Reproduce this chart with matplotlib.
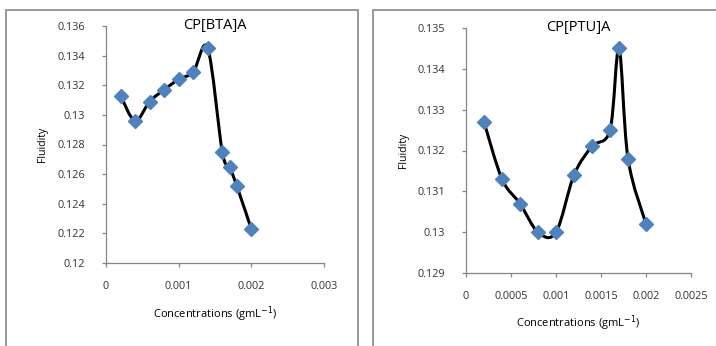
import numpy as np
import matplotlib
matplotlib.use("Agg")
from matplotlib import pyplot as plt
from matplotlib.path import Path
from matplotlib.patches import PathPatch, Rectangle

plt.rcParams['font.family'] = ['Open Sans', 'DejaVu Sans']

# 数据
conc = [0.0002, 0.0004, 0.0006, 0.0008, 0.001, 0.0012, 0.0014,
        0.0016, 0.0017, 0.0018, 0.002]
bta = [0.1313, 0.1296, 0.1309, 0.1317, 0.1324, 0.1329, 0.1345,
       0.1275, 0.1265, 0.1252, 0.1223]
ptu = [0.1327, 0.1313, 0.1307, 0.1300, 0.1300, 0.1314, 0.1321,
       0.1325, 0.1345, 0.1318, 0.1302]


def smooth_path(x, y):
    # Excel style smoothed line (Catmull-Rom -> Bezier)
    p = np.column_stack([x, y])
    ext = np.vstack([p[0], p, p[-1]])
    verts = [p[0]]
    codes = [Path.MOVETO]
    for i in range(len(p) - 1):
        c1 = ext[i + 1] + (ext[i + 2] - ext[i]) / 6
        c2 = ext[i + 2] - (ext[i + 3] - ext[i + 1]) / 6
        verts += [c1, c2, ext[i + 2]]
        codes += [Path.CURVE4] * 3
    return Path(verts, codes)


fig = plt.figure(figsize=(7.16, 3.46), dpi=100)
W, H = 716, 346
grey = '#868686'

# 外框
fig.patches.append(Rectangle((6 / W, -0.1), 352 / W, 1 - 10 / H + 0.1,
                             transform=fig.transFigure, fill=False,
                             edgecolor=grey, lw=1.2))
fig.patches.append(Rectangle((373 / W, -0.1), 400 / W, 1 - 10 / H + 0.1,
                             transform=fig.transFigure, fill=False,
                             edgecolor=grey, lw=1.2))


def setup(ax, ys, title, xlim, ylim, xt, yt, xlabels, ylabels, ylx, xly):
    ax.add_patch(PathPatch(smooth_path(conc, ys), fill=False,
                           edgecolor='black', lw=2.2, zorder=2))
    ax.plot(conc, ys, linestyle='none', marker='D', markersize=7,
            color='#4F81BD', zorder=3)
    ax.set_xlim(*xlim)
    ax.set_ylim(*ylim)
    ax.set_xticks(xt)
    ax.set_xticklabels(xlabels)
    ax.set_yticks(yt)
    ax.set_yticklabels(ylabels)
    for s in ['top', 'right']:
        ax.spines[s].set_visible(False)
    for s in ['left', 'bottom']:
        ax.spines[s].set_color(grey)
        ax.spines[s].set_linewidth(0.9)
    ax.tick_params(axis='both', colors=grey, labelcolor='#333333',
                   labelsize=7.8, length=3, width=0.9, direction='out')
    ax.tick_params(axis='x', pad=10)
    ax.tick_params(axis='y', pad=12)
    ax.set_ylabel('Fluidity', fontsize=7.6, va='center')
    ax.yaxis.set_label_coords(ylx, 0.5)
    ax.set_xlabel('Concentrations (gmL$^{-1}$)', fontsize=8, va='center')
    ax.xaxis.set_label_coords(0.5, xly)
    ax.text(0.5, 1.0, title, transform=ax.transAxes, ha='center',
            va='center', fontsize=10.5)


ax1 = fig.add_axes([106 / W, 1 - 263 / H, (324 - 106) / W, (263 - 26) / H])
setup(ax1, bta, 'CP[BTA]A', (0, 0.003), (0.12, 0.136),
      [0, 0.001, 0.002, 0.003], np.arange(0.12, 0.1361, 0.002),
      ['0', '0.001', '0.002', '0.003'],
      ['0.12', '0.122', '0.124', '0.126', '0.128', '0.13', '0.132',
       '0.134', '0.136'], -0.289, -0.215)

ax2 = fig.add_axes([466 / W, 1 - 273 / H, (691 - 466) / W, (273 - 28) / H])
setup(ax2, ptu, 'CP[PTU]A', (0, 0.0025), (0.129, 0.135),
      [0, 0.0005, 0.001, 0.0015, 0.002, 0.0025],
      np.arange(0.129, 0.13501, 0.001),
      ['0', '0.0005', '0.001', '0.0015', '0.002', '0.0025'],
      ['0.129', '0.13', '0.131', '0.132', '0.133', '0.134', '0.135'],
      -0.28, -0.204)

plt.savefig('out.png', dpi=100)
